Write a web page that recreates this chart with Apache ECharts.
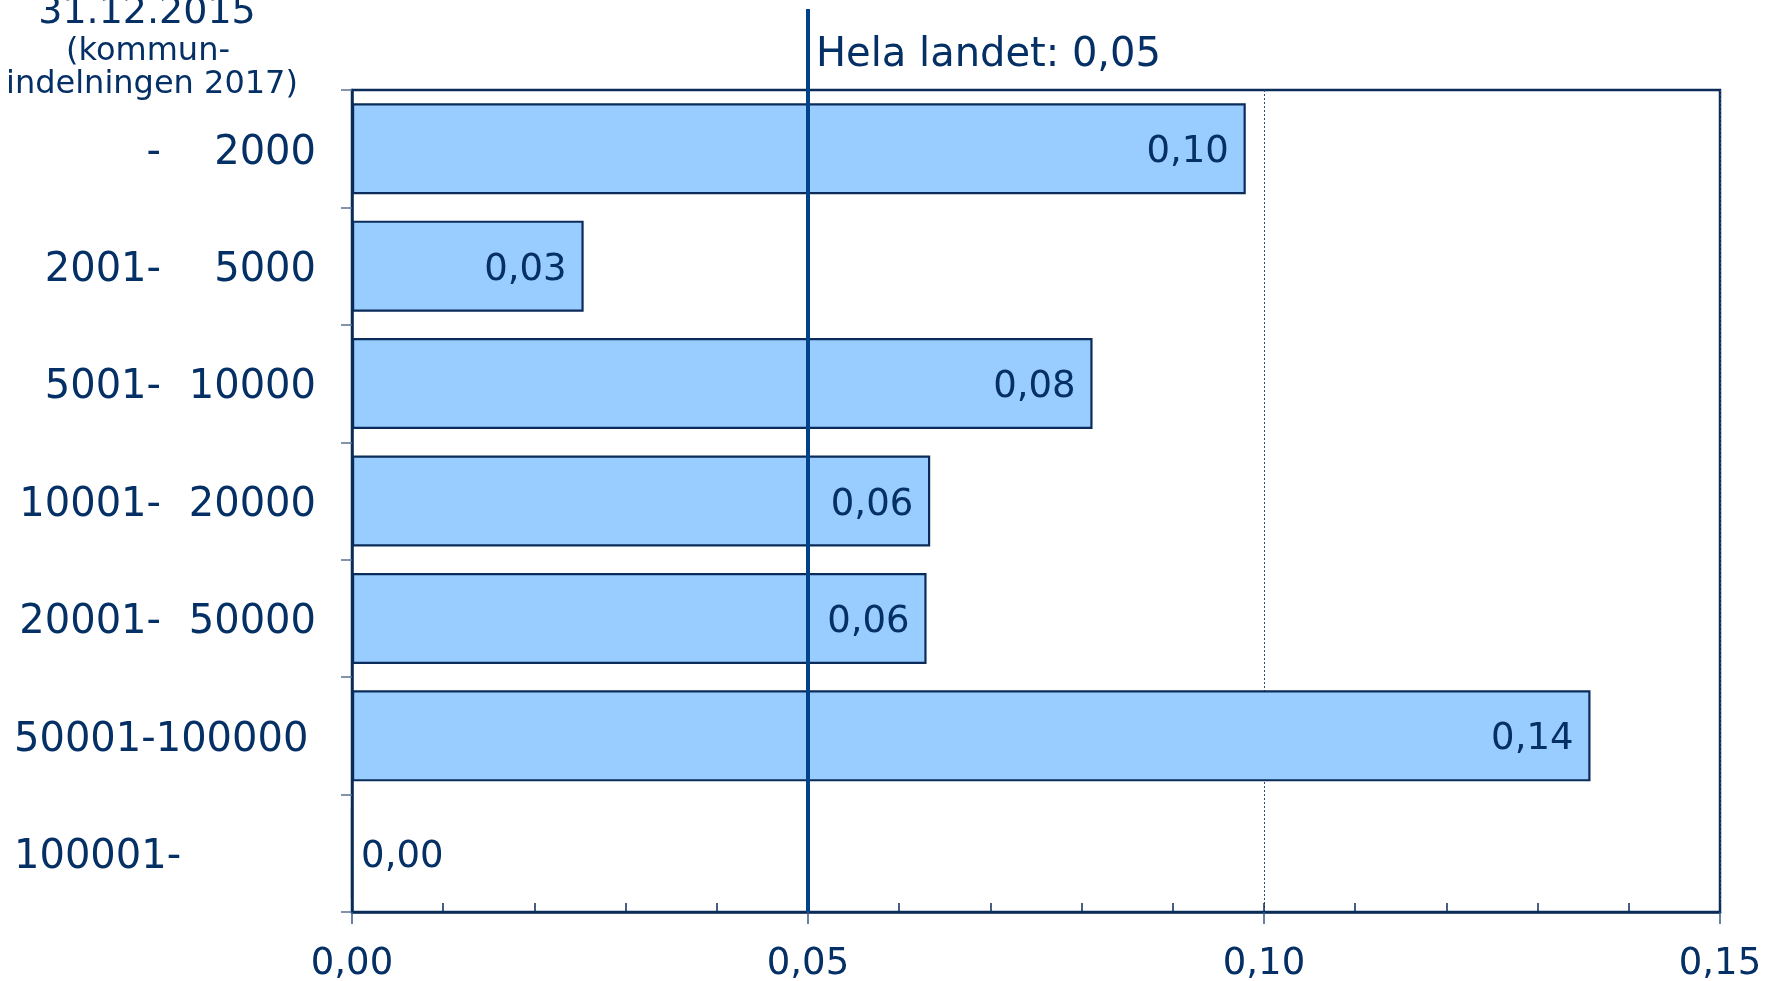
<!DOCTYPE html>
<html>
<head>
<meta charset="utf-8">
<script src="https://cdn.jsdelivr.net/npm/echarts@6/dist/echarts.min.js"></script>
<style>
html,body{margin:0;padding:0;background:#fff;}
#chart{width:1783px;height:981px;}
</style>
</head>
<body>
<div id="chart"></div>
<script>
// ---- data ----
const categoryLeft  = ['-', '2001-', '5001-', '10001-', '20001-', '50001-100000', '100001-'];
const categoryRight = ['2000', '5000', '10000', '20000', '50000', '', ''];
const values = [0.098, 0.0254, 0.0812, 0.0634, 0.0630, 0.1358, 0];
const nationalValue = 0.05;
const nationalLabel = 'Hela landet: 0,05';
const xTicks = [0, 0.05, 0.10, 0.15];
const titleLines = ['31.12.2015', '(kommun-', 'indelningen 2017)'];

const NAVY = '#0b2c5a';
const TEXT = '#053065';
const FONT = 'DejaVu Sans';
const fmt = v => v.toFixed(2).replace('.', ',');

const categories = categoryLeft.map((l, i) => i);

const chart = echarts.init(document.getElementById('chart'), null, {renderer: 'canvas'});

const option = {
  animation: false,
  backgroundColor: '#ffffff',
  textStyle: {fontFamily: FONT, color: TEXT},
  grid: {
    left: 352, right: 63, top: 90, bottom: 69,
    outerBoundsMode: 'none',
    containLabel: false,
    show: true, borderColor: NAVY, borderWidth: 2.5, backgroundColor: 'transparent'
  },
  xAxis: [{
    type: 'value',
    min: xTicks[0], max: xTicks[xTicks.length - 1], interval: 0.05,
    axisLine: {show: true, lineStyle: {color: NAVY, width: 2.5}},
    axisTick: {show: true, inside: false, length: 12, lineStyle: {color: '#3a5a85', width: 1.5}},
    axisLabel: {
      show: true, margin: 34, fontSize: 37, fontFamily: FONT, color: TEXT,
      formatter: v => fmt(v)
    },
    splitLine: {show: true, lineStyle: {color: '#2a4a7a', width: 1, type: [2, 2]}}
  }, {
    type: 'value',
    position: 'bottom',
    min: 0, max: 0.15, interval: 0.01,
    axisLine: {show: false},
    axisTick: {show: true, inside: true, length: 9, lineStyle: {color: NAVY, width: 1.5}},
    axisLabel: {show: false},
    splitLine: {show: false}
  }],
  yAxis: {
    type: 'category',
    inverse: true,
    data: categories,
    axisLine: {show: true, lineStyle: {color: NAVY, width: 2.5}},
    axisTick: {show: true, inside: false, length: 11, alignWithLabel: false, lineStyle: {color: '#5a7090', width: 1.5}},
    axisLabel: {
      show: true, align: 'left', margin: 338, fontSize: 40, fontFamily: FONT, color: TEXT,
      padding: [9, 0, 0, 0],
      formatter: (v, idx) => {
        const i = Number(v);
        if (categoryRight[i] === '') return '{c|' + categoryLeft[i] + '}';
        return '{a|' + categoryLeft[i] + '}{b|' + categoryRight[i] + '}';
      },
      rich: {
        a: {width: 147, align: 'right', fontSize: 40, fontFamily: FONT, color: TEXT},
        b: {width: 155, align: 'right', fontSize: 40, fontFamily: FONT, color: TEXT},
        c: {align: 'left', fontSize: 40, fontFamily: FONT, color: TEXT}
      }
    },
    splitLine: {show: false}
  },
  series: [{
    type: 'bar',
    xAxisIndex: 0,
    data: values.map(v => v === 0 ? {value: v, label: {position: 'right', distance: 8}} : v),
    barCategoryGap: '22.5%',
    itemStyle: {color: '#99ccff', borderColor: NAVY, borderWidth: 2.2},
    label: {
      show: true, position: 'insideRight', distance: 17, offset: [0, 4],
      fontSize: 37, fontFamily: FONT, color: TEXT,
      formatter: p => fmt(p.value)
    },
    markLine: {
      silent: true,
      symbol: 'none',
      label: {show: false},
      lineStyle: {color: '#00438a', width: 4, type: 'solid'},
      data: [{xAxis: nationalValue}],
      z: 10
    },
    z: 2
  }]
};

chart.setOption(option);

// extension of the national line above the plot and its label, positioned via the axis scale
const xRef = chart.convertToPixel({xAxisIndex: 0}, nationalValue);
const gridTop = 90;
chart.setOption({
  graphic: [
    {type: 'line', shape: {x1: xRef, y1: 9, x2: xRef, y2: gridTop}, style: {stroke: '#00438a', lineWidth: 4}, z: 20},
    {type: 'text', x: xRef + 8, y: 56, style: {text: nationalLabel, font: '40px "DejaVu Sans"', fill: TEXT, verticalAlign: 'middle', align: 'left'}, z: 20},
    {type: 'text', x: 147, y: 13, style: {text: titleLines[0], font: '38px "DejaVu Sans"', fill: TEXT, verticalAlign: 'middle', align: 'center'}},
    {type: 'text', x: 148, y: 52, style: {text: titleLines[1], font: '32px "DejaVu Sans"', fill: TEXT, verticalAlign: 'middle', align: 'center'}},
    {type: 'text', x: 152, y: 85, style: {text: titleLines[2], font: '32px "DejaVu Sans"', fill: TEXT, verticalAlign: 'middle', align: 'center'}}
  ]
});
</script>
</body>
</html>
